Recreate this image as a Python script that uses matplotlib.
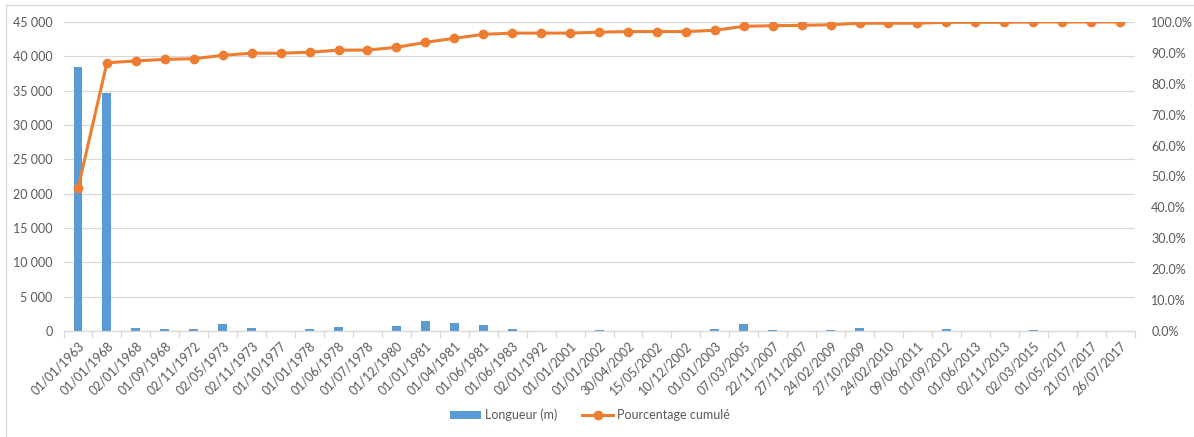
import numpy as np
import matplotlib; matplotlib.use("Agg")
import matplotlib.pyplot as plt
from matplotlib.ticker import FuncFormatter, FixedLocator
from matplotlib.lines import Line2D
from matplotlib.patches import Patch

dates = ["01/01/1963", "01/01/1968", "02/01/1968", "01/09/1968", "02/11/1972",
         "02/05/1973", "02/11/1973", "01/10/1977", "01/01/1978", "01/06/1978",
         "01/07/1978", "01/12/1980", "01/01/1981", "01/04/1981", "01/06/1981",
         "01/06/1983", "02/01/1992", "01/01/2001", "01/01/2002", "30/04/2002",
         "15/05/2002", "10/12/2002", "01/01/2003", "07/03/2005", "22/11/2007",
         "27/11/2007", "24/02/2009", "27/10/2009", "24/02/2010", "09/06/2011",
         "01/09/2012", "01/06/2013", "02/11/2013", "02/03/2015", "01/05/2017",
         "21/07/2017", "26/07/2017"]

longueur = [38500, 34600, 490, 340, 250, 1000, 450, 0, 250, 550,
            0, 690, 1420, 1230, 880, 250, 0, 0, 100, 0,
            0, 0, 250, 1080, 120, 0, 120, 400, 0, 0,
            300, 0, 0, 120, 0, 0, 0]

cumul_pct = [46.2, 86.8, 87.4, 87.9, 88.1, 89.2, 89.9, 89.9, 90.2, 90.9,
             90.9, 91.8, 93.4, 94.7, 96.0, 96.4, 96.4, 96.4, 96.7, 96.9,
             96.9, 96.9, 97.3, 98.6, 98.8, 98.9, 99.1, 99.6, 99.6, 99.6,
             99.9, 99.9, 99.9, 100.0, 100.0, 100.0, 100.0]

BLUE = "#5B9BD5"
ORANGE = "#ED7D31"
GRID = "#D9D9D9"
TXT = "#595959"

plt.rcParams["font.family"] = ["Lato", "DejaVu Sans"]

fig = plt.figure(figsize=(11.94, 4.37), dpi=100)
fig.patch.set_facecolor("white")
ax = fig.add_axes([0.0532, 0.2426, 0.8970, 0.7071])
x = np.arange(len(dates))

ax.bar(x, longueur, width=0.31, color=BLUE, zorder=2)
ax.set_xlim(-0.5, len(dates) - 0.5)
ax.set_ylim(0, 45000)
ax.set_yticks(np.arange(0, 45001, 5000))
ax.yaxis.set_major_formatter(FuncFormatter(lambda v, p: f"{int(v):,}".replace(",", " ")))
ax.grid(axis="y", color=GRID, linewidth=0.9, zorder=0)
ax.set_axisbelow(True)
for s in ["top", "right", "left"]:
    ax.spines[s].set_visible(False)
ax.spines["bottom"].set_color(GRID)
ax.spines["bottom"].set_linewidth(0.9)

ax.set_xticks(x)
ax.set_xticklabels(dates, rotation=45, ha="right", rotation_mode="anchor",
                   fontsize=9, color=TXT)
ax.tick_params(axis="x", length=0, pad=6)
ax.xaxis.set_minor_locator(FixedLocator(np.arange(-0.5, len(dates), 1.0)))
ax.tick_params(axis="x", which="minor", length=5, color=GRID, width=0.9)
ax.tick_params(axis="y", length=0, labelsize=9, labelcolor=TXT, pad=8)

ax2 = ax.twinx()
ax2.plot(x, np.array(cumul_pct) / 100, color=ORANGE, linewidth=2.2,
         marker="o", markersize=6, zorder=3)
ax2.set_ylim(0, 1.0)
ax2.set_yticks(np.arange(0, 1.001, 0.1))
ax2.yaxis.set_major_formatter(FuncFormatter(lambda v, p: f"{v*100:.1f}%"))
ax2.tick_params(axis="y", length=0, labelsize=9, labelcolor=TXT, pad=12)
for s in ["top", "right", "left", "bottom"]:
    ax2.spines[s].set_visible(False)

handles = [Patch(facecolor=BLUE, edgecolor="none"),
           Line2D([0], [0], color=ORANGE, linewidth=2.2, marker="o", markersize=6)]
fig.legend(handles, ["Longueur (m)", "Pourcentage cumulé"], loc="center",
           bbox_to_anchor=(0.494, 0.05), ncol=2, frameon=False, fontsize=9,
           labelcolor=TXT, handlelength=2.5, columnspacing=2.0, handletextpad=0.3)

# chart frame
fig.add_artist(Line2D([6 / 1194, 1.0], [1 - 5 / 437, 1 - 5 / 437], color=GRID,
                      linewidth=1.0, transform=fig.transFigure))
fig.add_artist(Line2D([6 / 1194, 6 / 1194], [0, 1 - 5 / 437], color=GRID,
                      linewidth=1.0, transform=fig.transFigure))

plt.savefig("out.png", dpi=100, facecolor="white")
plt.close(fig)
